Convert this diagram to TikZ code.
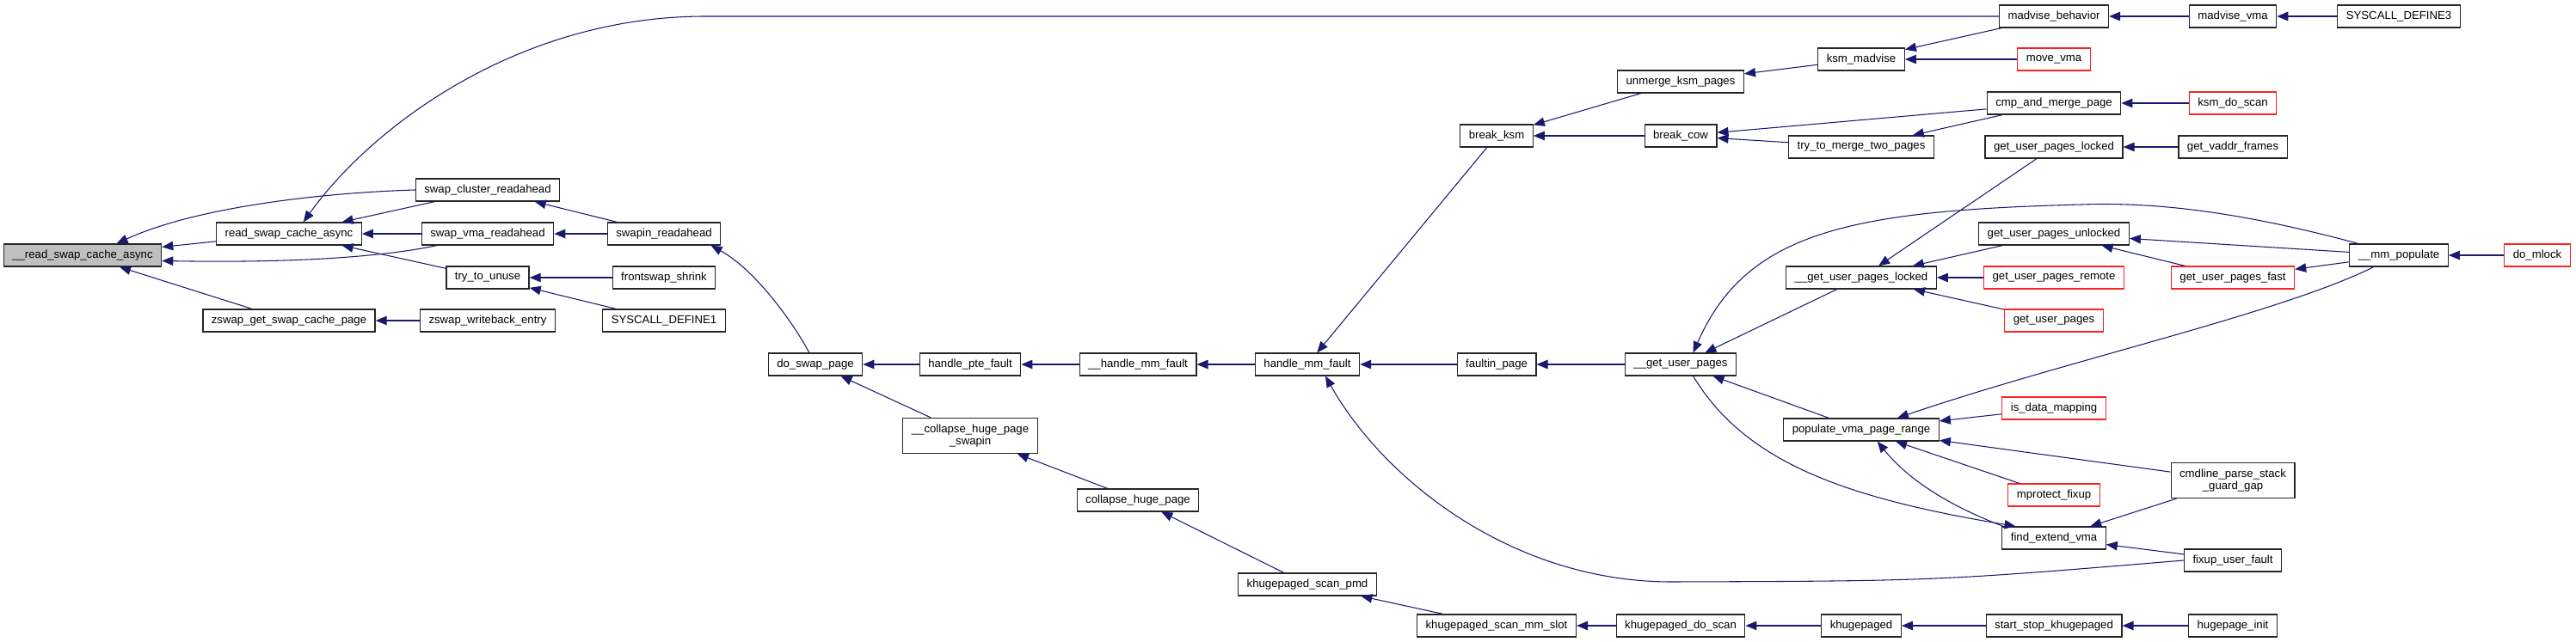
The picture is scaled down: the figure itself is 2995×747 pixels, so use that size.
\documentclass[tikz,border=0pt]{standalone}
\usepackage{fontspec}
\setmainfont{Liberation Sans}
\definecolor{EdgeBlue}{HTML}{191970}
\definecolor{RootGray}{HTML}{BFBFBF}
\definecolor{TruncRed}{HTML}{FF2020}
\usetikzlibrary{arrows.meta}

\begin{document}
\begin{tikzpicture}[
  x=0.02cm, y=-0.02cm,
  fn/.style={draw=black!85, fill=white, line width=0.7pt,
             font=\fontsize{7.5}{8.4}\selectfont, align=center,
             inner xsep=2mm, inner ysep=0pt, minimum height=5.2mm},
  root/.style={fn, fill=RootGray},
  trunc/.style={fn, draw=TruncRed},
  tall/.style={minimum height=8.2mm},
  arr/.style={-{Triangle[length=2.6mm, width=2.1mm]}, EdgeBlue, line width=0.6pt},
]
  \useasboundingbox (0,0) rectangle (2995,747);

  \node[root] (rsca0) at (96,297) {\_\_read\_swap\_cache\_async};
  \node[fn] (rsca)  at (336,272) {read\_swap\_cache\_async};
  \node[fn] (zgscp) at (336,373) {zswap\_get\_swap\_cache\_page};
  \node[fn] (scr)   at (567,221) {swap\_cluster\_readahead};
  \node[fn] (svr)   at (567,272) {swap\_vma\_readahead};
  \node[fn] (ttu)   at (567,323) {try\_to\_unuse};
  \node[fn] (zwe)   at (567,373) {zswap\_writeback\_entry};
  \node[fn] (sra)   at (772,272) {swapin\_readahead};
  \node[fn] (fss)   at (772,323) {frontswap\_shrink};
  \node[fn] (sd1)   at (772,373) {SYSCALL\_DEFINE1};
  \node[fn] (dsp)   at (948,424) {do\_swap\_page};
  \node[fn] (hpf)   at (1128,424) {handle\_pte\_fault};
  \node[fn, tall] (chps) at (1128,507) {\_\_collapse\_huge\_page\\\_swapin};
  \node[fn] (hmf0)  at (1323,424) {\_\_handle\_mm\_fault};
  \node[fn] (chp)   at (1323,582) {collapse\_huge\_page};
  \node[fn] (hmf)   at (1520,424) {handle\_mm\_fault};
  \node[fn] (ksp)   at (1520,680) {khugepaged\_scan\_pmd};
  \node[fn] (bksm)  at (1740,158) {break\_ksm};
  \node[fn] (fp)    at (1740,424) {faultin\_page};
  \node[fn] (ksms)  at (1740,728) {khugepaged\_scan\_mm\_slot};
  \node[fn] (uksm)  at (1954,95)  {unmerge\_ksm\_pages};
  \node[fn] (bcow)  at (1954,158) {break\_cow};
  \node[fn] (gup0)  at (1954,424) {\_\_get\_user\_pages};
  \node[fn] (kds)   at (1954,728) {khugepaged\_do\_scan};
  \node[fn] (kmad)  at (2164,69)  {ksm\_madvise};
  \node[fn] (ttm)   at (2164,171) {try\_to\_merge\_two\_pages};
  \node[fn] (gupl0) at (2164,323) {\_\_get\_user\_pages\_locked};
  \node[fn] (pvpr)  at (2164,500) {populate\_vma\_page\_range};
  \node[fn] (kpd)   at (2164,728) {khugepaged};
  \node[fn] (madb)  at (2388,19)  {madvise\_behavior};
  \node[trunc] (mvma) at (2388,69) {move\_vma};
  \node[fn] (cmp)   at (2388,120) {cmp\_and\_merge\_page};
  \node[fn] (gupl)  at (2388,171) {get\_user\_pages\_locked};
  \node[fn] (gupu)  at (2388,272) {get\_user\_pages\_unlocked};
  \node[trunc] (gupr) at (2388,323) {get\_user\_pages\_remote};
  \node[trunc] (gup)  at (2388,373) {get\_user\_pages};
  \node[trunc] (idm)  at (2388,475) {is\_data\_mapping};
  \node[trunc] (mpf)  at (2388,576) {mprotect\_fixup};
  \node[fn] (fev)   at (2388,626) {find\_extend\_vma};
  \node[fn] (sskp)  at (2388,728) {start\_stop\_khugepaged};
  \node[fn] (madv)  at (2596,19)  {madvise\_vma};
  \node[trunc] (kdsc) at (2596,120) {ksm\_do\_scan};
  \node[fn] (gvf)   at (2596,171) {get\_vaddr\_frames};
  \node[trunc] (gupf) at (2596,323) {get\_user\_pages\_fast};
  \node[fn, tall] (cpsg) at (2596,559) {cmdline\_parse\_stack\\\_guard\_gap};
  \node[fn] (fuf)   at (2596,652) {fixup\_user\_fault};
  \node[fn] (hpi)   at (2596,728) {hugepage\_init};
  \node[fn] (sd3)   at (2789,19)  {SYSCALL\_DEFINE3};
  \node[fn] (mmp)   at (2789,297) {\_\_mm\_populate};
  \node[trunc] (dml) at (2950,297) {do\_mlock};

  \draw[arr] (rsca) -- (rsca0);
  \draw[arr] (scr.west) .. controls (380,224) and (230,240) .. (rsca0.19);
  \draw[arr] (svr.193) .. controls (440,300) and (330,306) .. (rsca0.-4);
  \draw[arr] (zgscp) -- (rsca0);
  \draw[arr] (madb.west) -- (820,19) .. controls (600,19) and (430,150) .. (rsca.39);
  \draw[arr] (scr) -- (rsca);
  \draw[arr] (svr) -- (rsca);
  \draw[arr] (ttu) -- (rsca);
  \draw[arr] (sra) -- (scr);
  \draw[arr] (sra) -- (svr);
  \draw[arr] (fss) -- (ttu);
  \draw[arr] (sd1) -- (ttu);
  \draw[arr] (zwe) -- (zgscp);
  \draw[arr] (dsp.118) .. controls (925,380) and (880,315) .. (sra.-14);
  \draw[arr] (hpf) -- (dsp);
  \draw[arr] (chps) -- (dsp);
  \draw[arr] (hmf0) -- (hpf);
  \draw[arr] (chp) -- (chps);
  \draw[arr] (hmf) -- (hmf0);
  \draw[arr] (ksp) -- (chp);
  \draw[arr] (bksm) -- (hmf);
  \draw[arr] (fp) -- (hmf);
  \draw[arr] (fuf.west) .. controls (2250,676) .. (1943,677)
             .. controls (1760,677) and (1610,560) .. (hmf.-33);
  \draw[arr] (ksms) -- (ksp);
  \draw[arr] (uksm) -- (bksm);
  \draw[arr] (bcow) -- (bksm);
  \draw[arr] (gup0) -- (fp);
  \draw[arr] (kds) -- (ksms);
  \draw[arr] (kmad) -- (uksm);
  \draw[arr] (cmp) -- (bcow);
  \draw[arr] (ttm) -- (bcow);
  \draw[arr] (gupl0) -- (gup0);
  \draw[arr] (pvpr) -- (gup0);
  \draw[arr] (mmp.164) .. controls (2600,245) and (2500,235) .. (2420,238)
             .. controls (2150,245) and (2030,270) .. (gup0.43);
  \draw[arr] (kpd) -- (kds);
  \draw[arr] (madb) -- (kmad);
  \draw[arr] (mvma) -- (kmad);
  \draw[arr] (kdsc) -- (cmp);
  \draw[arr] (cmp) -- (ttm);
  \draw[arr] (gupl) -- (gupl0);
  \draw[arr] (gupu) -- (gupl0);
  \draw[arr] (gupr) -- (gupl0);
  \draw[arr] (gup) -- (gupl0);
  \draw[arr] (mmp.205) .. controls (2650,365) and (2400,420) .. (pvpr.18);
  \draw[arr] (idm) -- (pvpr);
  \draw[arr] (cpsg) -- (pvpr);
  \draw[arr] (mpf) -- (pvpr);
  \draw[arr] (fev.167) .. controls (2270,590) and (2220,560) .. (pvpr.-36);
  \draw[arr] (gup0.-43) .. controls (2030,540) and (2150,580) .. (fev.163);
  \draw[arr] (cpsg) -- (fev);
  \draw[arr] (fuf) -- (fev);
  \draw[arr] (madv) -- (madb);
  \draw[arr] (sd3) -- (madv);
  \draw[arr] (gvf) -- (gupl);
  \draw[arr] (mmp) -- (gupu);
  \draw[arr] (gupf) -- (gupu);
  \draw[arr] (mmp) -- (gupf);
  \draw[arr] (dml) -- (mmp);
  \draw[arr] (sskp) -- (kpd);
  \draw[arr] (hpi) -- (sskp);
\end{tikzpicture}
\end{document}
